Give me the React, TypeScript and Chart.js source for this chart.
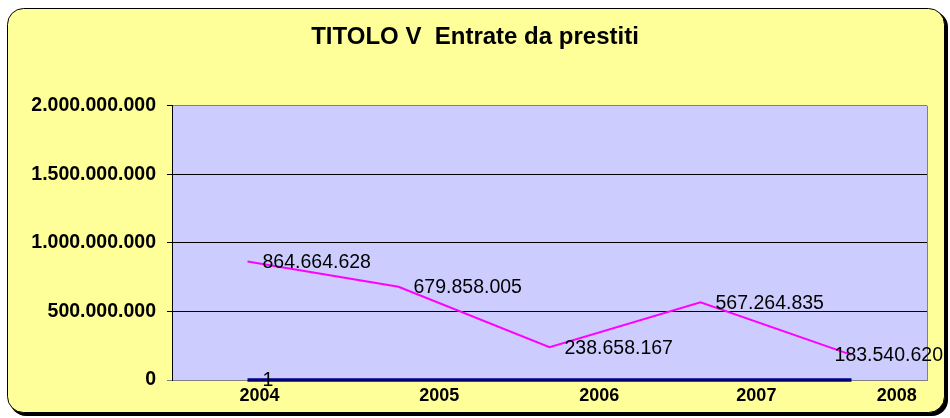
import React, { useEffect, useRef } from "react";
import { Chart, registerables } from "chart.js";

Chart.register(...registerables);

const years = ["2004", "2005", "2006", "2007", "2008"];
const prestiti = [864664628, 679858005, 238658167, 567264835, 183540620];
const secondSeries = [1, 0, 0, 0, 0];
const yMin = 0;
const yMax = 2000000000;
const yStep = 500000000;
const chartTitle = "TITOLO V  Entrate da prestiti";

const FONT = "'Liberation Sans', Arial, Helvetica, sans-serif";

const fmt = (v: number) =>
  Math.round(v)
    .toString()
    .replace(/\B(?=(\d{3})+(?!\d))/g, ".");

function roundRect(ctx: CanvasRenderingContext2D, x: number, y: number, w: number, h: number, r: number) {
  ctx.beginPath();
  ctx.moveTo(x + r, y);
  ctx.lineTo(x + w - r, y);
  ctx.arcTo(x + w, y, x + w, y + r, r);
  ctx.lineTo(x + w, y + h - r);
  ctx.arcTo(x + w, y + h, x + w - r, y + h, r);
  ctx.lineTo(x + r, y + h);
  ctx.arcTo(x, y + h, x, y + h - r, r);
  ctx.lineTo(x, y + r);
  ctx.arcTo(x, y, x + r, y, r);
  ctx.closePath();
}

export default function App() {
  const ref = useRef<HTMLCanvasElement | null>(null);

  useEffect(() => {
    if (!ref.current) return;

    // category-index positions of the year labels under the axis (as in the original)
    const yearLabelAt = [0.08, 1.27, 2.33, 3.37, 4.3];

    const framePlugin = {
      id: "frame",
      beforeDraw(chart: any) {
        const ctx = chart.ctx as CanvasRenderingContext2D;
        const { chartArea } = chart;
        ctx.save();
        ctx.fillStyle = "#ffffff";
        ctx.fillRect(0, 0, chart.width, chart.height);
        // shadow
        ctx.fillStyle = "#000000";
        roundRect(ctx, 10, 11, 938, 405, 16);
        ctx.fill();
        // box
        ctx.fillStyle = "#FFFF99";
        roundRect(ctx, 7.5, 8.5, 937, 404, 16);
        ctx.fill();
        ctx.strokeStyle = "#000000";
        ctx.lineWidth = 1;
        ctx.stroke();
        // plot area
        ctx.fillStyle = "#CCCCFF";
        ctx.fillRect(chartArea.left, chartArea.top, chartArea.right - chartArea.left, chartArea.bottom - chartArea.top);
        ctx.restore();
      },
      afterDatasetsDraw(chart: any) {
        const ctx = chart.ctx as CanvasRenderingContext2D;
        const { chartArea } = chart;
        ctx.save();
        ctx.strokeStyle = "#808080";
        ctx.lineWidth = 1;
        ctx.beginPath();
        ctx.moveTo(Math.round(chartArea.right) + 0.5, chartArea.top);
        ctx.lineTo(Math.round(chartArea.right) + 0.5, chartArea.bottom);
        ctx.stroke();

        ctx.font = `19.5px ${FONT}`;
        ctx.fillStyle = "#000000";
        ctx.textAlign = "left";
        ctx.textBaseline = "middle";
        chart.data.datasets.forEach((ds: any, di: number) => {
          const meta = chart.getDatasetMeta(di);
          meta.data.forEach((pt: any, i: number) => {
            const v = ds.data[i];
            if (v === null || v === undefined) return;
            if (di === 1 && v === 0) return;
            const text = fmt(v);
            const w = ctx.measureText(text).width;
            const x = Math.min(pt.x + 15, chart.width - 7 - w);
            ctx.fillText(text, x, pt.y + 1);
          });
        });
        ctx.restore();
      },
    };

    const chart = new Chart(ref.current, {
      type: "line",
      data: {
        labels: years,
        datasets: [
          {
            label: "Entrate da prestiti",
            data: prestiti,
            borderColor: "#FF00FF",
            backgroundColor: "#FF00FF",
            borderWidth: 2,
            pointRadius: 0,
            tension: 0,
            xAxisID: "x",
            yAxisID: "y",
          },
          {
            label: "Serie 2",
            data: secondSeries,
            borderColor: "#000080",
            backgroundColor: "#000080",
            borderWidth: 3.5,
            pointRadius: 0,
            tension: 0,
            clip: 4,
            xAxisID: "x",
            yAxisID: "y",
          },
        ],
      },
      options: {
        responsive: false,
        animation: false,
        events: [],
        layout: { padding: { left: 23, right: 23, top: 0, bottom: 0 } },
        plugins: {
          legend: { display: false },
          tooltip: { enabled: false },
          title: {
            display: true,
            text: chartTitle,
            color: "#000000",
            font: { family: FONT, size: 24, weight: "bold" },
            padding: { top: 23, bottom: 54 },
          },
        },
        scales: {
          x: {
            type: "category",
            display: false,
            offset: true,
          },
          xl: {
            type: "linear",
            position: "bottom",
            min: -0.5,
            max: 4.5,
            afterBuildTicks: (scale: any) => {
              scale.ticks = yearLabelAt.map((v) => ({ value: v }));
            },
            afterFit: (scale: any) => {
              scale.height = 38;
            },
            grid: { display: false, drawTicks: false },
            border: { display: true, color: "#808080" },
            ticks: {
              autoSkip: false,
              maxRotation: 0,
              padding: 5,
              color: "#000000",
              font: { family: FONT, size: 18, weight: "bold" },
              callback: (_v: any, i: number) => years[i],
            },
          },
          y: {
            type: "linear",
            min: yMin,
            max: yMax,
            afterFit: (scale: any) => {
              scale.width = 149;
            },
            grid: {
              color: (c: any) => (c.tick && (c.tick.value === yMin || c.tick.value === yMax) ? "#808080" : "#000000"),
              tickColor: (c: any) => (c.tick && c.tick.value === yMin ? "#808080" : "#000000"),
              tickLength: 5,
              lineWidth: 1,
            },
            border: { display: true, color: "#000000", width: 1 },
            ticks: {
              stepSize: yStep,
              padding: 11,
              color: "#000000",
              font: { family: FONT, size: 19.5, weight: "bold" },
              callback: (v: any) => fmt(Number(v)),
            },
          },
        },
      },
      plugins: [framePlugin],
    } as any);

    return () => chart.destroy();
  }, []);

  return (
    <div style={{ position: "fixed", left: 0, top: 0, width: 950, height: 418 }}>
      <canvas ref={ref} width={950} height={418} style={{ display: "block" }} />
    </div>
  );
}
